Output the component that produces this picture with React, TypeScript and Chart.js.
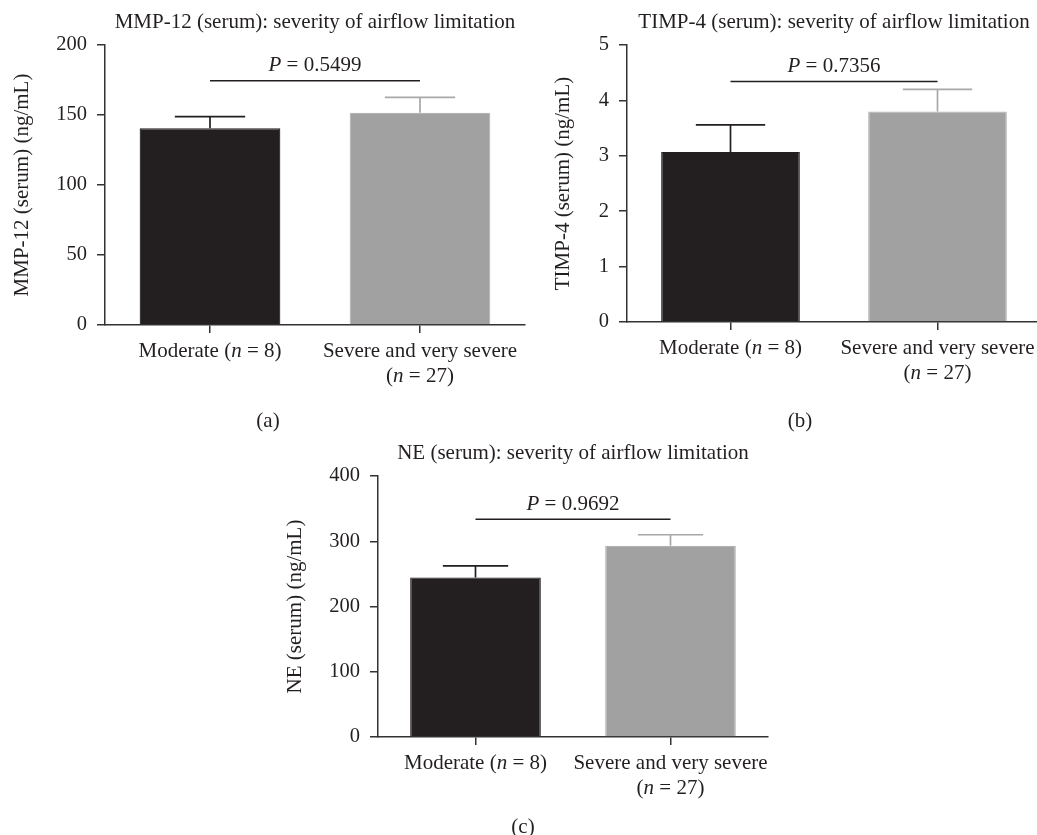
import React, { useEffect, useRef } from "react";
import { Chart, registerables } from "chart.js";

Chart.register(...registerables);

// ---------- data ----------
const categories: string[][] = [["Moderate (n = 8)"], ["Severe and very severe", "(n = 27)"]];

const mmp12Means = [140.5, 151.6];
const mmp12Sem = [8.3, 11.0];
const mmp12Axis = { max: 200, step: 50 };
const mmp12P = { text: "P = 0.5499", level: 174.5 };

const timp4Means = [3.07, 3.8];
const timp4Sem = [0.49, 0.4];
const timp4Axis = { max: 5, step: 1 };
const timp4P = { text: "P = 0.7356", level: 4.34 };

const neMeans = [244.6, 293.0];
const neSem = [17.8, 17.0];
const neAxis = { max: 400, step: 100 };
const neP = { text: "P = 0.9692", level: 333.6 };

// ---------- styles ----------
const FONT = '"Liberation Serif", "Times New Roman", serif';
const TEXT = "#231f20";
const AXIS = "#333333";
const BAR_FILL = ["#231f20", "#a1a1a1"];
const BAR_EDGE = ["#231f20", "#b4b4b4"];
const ERR_COLOR = ["#231f20", "#a8a8a8"];
const FS = 21;
const TICK_FS = 20.5;

Chart.defaults.font.family = FONT;

type PanelCfg = {
  key: string;
  title: string;
  yTitle: string;
  means: number[];
  sem: number[];
  axis: { max: number; step: number };
  p: { text: string; level: number };
  box: { left: number; top: number; width: number; height: number };
  area: { l: number; t: number; r: number; b: number };
  yTitleX: number;
};

const panels: PanelCfg[] = [
  {
    key: "a",
    title: "MMP-12 (serum): severity of airflow limitation",
    yTitle: "MMP-12 (serum) (ng/mL)",
    means: mmp12Means,
    sem: mmp12Sem,
    axis: mmp12Axis,
    p: mmp12P,
    box: { left: 0, top: 0, width: 540, height: 400 },
    area: { l: 105, t: 45, r: 525, b: 325 },
    yTitleX: 22,
  },
  {
    key: "b",
    title: "TIMP-4 (serum): severity of airflow limitation",
    yTitle: "TIMP-4 (serum) (ng/mL)",
    means: timp4Means,
    sem: timp4Sem,
    axis: timp4Axis,
    p: timp4P,
    box: { left: 520, top: 0, width: 530, height: 400 },
    area: { l: 627, t: 45, r: 1041, b: 322 },
    yTitleX: 563,
  },
  {
    key: "c",
    title: "NE (serum): severity of airflow limitation",
    yTitle: "NE (serum) (ng/mL)",
    means: neMeans,
    sem: neSem,
    axis: neAxis,
    p: neP,
    box: { left: 270, top: 420, width: 510, height: 400 },
    area: { l: 378, t: 476, r: 768, b: 737 },
    yTitleX: 295,
  },
];

const tags = [
  { text: "(a)", x: 268, y: 420 },
  { text: "(b)", x: 800, y: 420 },
  { text: "(c)", x: 523, y: 826 },
];

// ---------- helpers ----------
function fontStr(italic: boolean, size: number) {
  return `${italic ? "italic " : ""}${size}px ${FONT}`;
}

function drawRich(ctx: CanvasRenderingContext2D, text: string, cx: number, y: number, size: number) {
  const parts = text.split(/(\b[nP]\b)/).filter((s) => s.length > 0);
  const segs = parts.map((t) => ({ t, it: /^[nP]$/.test(t) }));
  let total = 0;
  const widths = segs.map((s) => {
    ctx.font = fontStr(s.it, size);
    const w = ctx.measureText(s.t).width;
    total += w;
    return w;
  });
  let x = cx - total / 2;
  ctx.textAlign = "left";
  ctx.textBaseline = "alphabetic";
  ctx.fillStyle = TEXT;
  segs.forEach((s, i) => {
    ctx.font = fontStr(s.it, size);
    ctx.fillText(s.t, x, y);
    x += widths[i];
  });
}

function makePlugin(cfg: PanelCfg) {
  return {
    id: "extras_" + cfg.key,
    afterDatasetsDraw(chart: any) {
      const ctx: CanvasRenderingContext2D = chart.ctx;
      const xs = chart.scales.x;
      const ys = chart.scales.y;
      const meta = chart.getDatasetMeta(0);
      ctx.save();
      // error bars (upper only)
      meta.data.forEach((bar: any, i: number) => {
        const top = ys.getPixelForValue(cfg.means[i] + cfg.sem[i]);
        const half = bar.width / 4;
        ctx.strokeStyle = ERR_COLOR[i];
        ctx.lineWidth = 1.7;
        ctx.beginPath();
        ctx.moveTo(bar.x, bar.y);
        ctx.lineTo(bar.x, top);
        ctx.moveTo(bar.x - half, top);
        ctx.lineTo(bar.x + half, top);
        ctx.stroke();
      });
      // significance bracket
      const py = ys.getPixelForValue(cfg.p.level);
      const x0 = xs.getPixelForValue(0);
      const x1 = xs.getPixelForValue(1);
      ctx.strokeStyle = TEXT;
      ctx.lineWidth = 1.5;
      ctx.beginPath();
      ctx.moveTo(x0, py);
      ctx.lineTo(x1, py);
      ctx.stroke();
      drawRich(ctx, cfg.p.text, (x0 + x1) / 2, py - 9.5, FS);
      ctx.restore();
    },
    afterDraw(chart: any) {
      const ctx: CanvasRenderingContext2D = chart.ctx;
      const area = chart.chartArea;
      const xs = chart.scales.x;
      ctx.save();
      // title
      ctx.font = fontStr(false, FS);
      ctx.fillStyle = TEXT;
      ctx.textAlign = "center";
      ctx.textBaseline = "alphabetic";
      ctx.fillText(cfg.title, (area.left + area.right) / 2, area.top - 17);
      // category labels with italic n
      categories.forEach((lines, i) => {
        const cx = xs.getPixelForTick(i);
        lines.forEach((ln, j) => {
          drawRich(ctx, ln, cx, area.bottom + 31.7 + j * 25, FS);
        });
      });
      ctx.restore();
    },
  };
}

function Panel({ cfg }: { cfg: PanelCfg }) {
  const ref = useRef<HTMLCanvasElement>(null);
  useEffect(() => {
    const { box, area } = cfg;
    const lineH = FS * 1.2;
    const chart = new Chart(ref.current as HTMLCanvasElement, {
      type: "bar",
      data: {
        labels: categories.map((c) => c.join(" ")),
        datasets: [
          {
            data: cfg.means,
            backgroundColor: BAR_FILL,
            borderColor: BAR_EDGE,
            borderWidth: 1.2,
            categoryPercentage: 1,
            barPercentage: 0.67,
          },
        ],
      },
      options: {
        responsive: false,
        animation: false,
        events: [],
        layout: {
          padding: {
            left: 0,
            top: area.t - box.top,
            right: box.left + box.width - area.r,
            bottom: 0,
          },
        },
        plugins: {
          legend: { display: false },
          tooltip: { enabled: false },
          title: { display: false },
        },
        scales: {
          x: {
            offset: true,
            grid: {
              offset: false,
              drawOnChartArea: false,
              color: AXIS,
              lineWidth: 1.5,
              tickLength: 8,
            },
            border: { color: AXIS, width: 1.5 },
            ticks: { display: false },
            afterFit: (s: any) => {
              s.height = box.top + box.height - area.b;
            },
          },
          y: {
            min: 0,
            max: cfg.axis.max,
            ticks: {
              stepSize: cfg.axis.step,
              padding: 10,
              color: TEXT,
              font: { family: FONT, size: TICK_FS },
            },
            grid: {
              drawOnChartArea: false,
              color: AXIS,
              lineWidth: 1.5,
              tickLength: 8,
            },
            border: { color: AXIS, width: 1.5 },
            title: {
              display: true,
              text: cfg.yTitle,
              color: TEXT,
              font: { family: FONT, size: FS },
              padding: { top: cfg.yTitleX - box.left - lineH / 2, bottom: 0 },
            },
            afterFit: (s: any) => {
              s.width = area.l - box.left;
            },
          },
        },
      },
      plugins: [makePlugin(cfg)],
    } as any);
    return () => chart.destroy();
  }, [cfg]);
  return (
    <canvas
      ref={ref}
      width={cfg.box.width}
      height={cfg.box.height}
      style={{
        position: "absolute",
        left: cfg.box.left,
        top: cfg.box.top,
        width: cfg.box.width,
        height: cfg.box.height,
      }}
    />
  );
}

export default function App() {
  return (
    <div
      style={{
        position: "fixed",
        left: 0,
        top: 0,
        width: 1037,
        height: 835,
        overflow: "hidden",
        background: "#ffffff",
      }}
    >
      {panels.map((p) => (
        <Panel key={p.key} cfg={p} />
      ))}
      {tags.map((t) => (
        <div
          key={t.text}
          style={{
            position: "absolute",
            left: t.x - 50,
            top: t.y - 13,
            width: 100,
            height: 26,
            lineHeight: "26px",
            textAlign: "center",
            fontFamily: FONT,
            fontSize: FS,
            color: TEXT,
            whiteSpace: "nowrap",
          }}
        >
          {t.text}
        </div>
      ))}
    </div>
  );
}
